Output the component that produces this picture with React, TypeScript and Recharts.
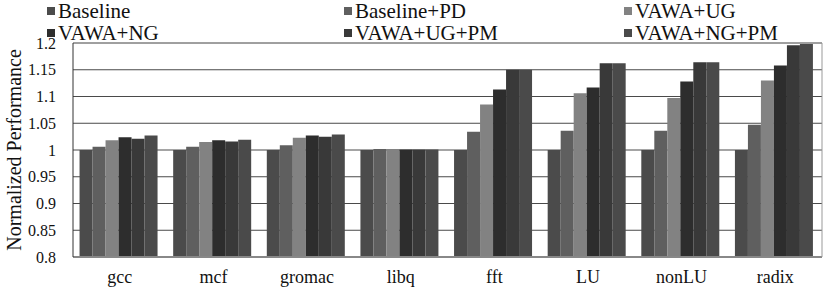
import React from 'react'
import { BarChart, Bar, XAxis, YAxis, CartesianGrid } from 'recharts'

const categories = ['gcc', 'mcf', 'gromac', 'libq', 'fft', 'LU', 'nonLU', 'radix']

const baseline = [1.0, 1.0, 1.0, 1.0, 1.0, 1.0, 1.0, 1.0]
const baselinePD = [1.006, 1.006, 1.009, 1.002, 1.034, 1.036, 1.036, 1.047]
const vawaUG = [1.018, 1.015, 1.023, 1.002, 1.085, 1.106, 1.097, 1.13]
const vawaNG = [1.024, 1.018, 1.027, 1.001, 1.113, 1.117, 1.128, 1.158]
const vawaUGPM = [1.021, 1.016, 1.025, 1.001, 1.15, 1.162, 1.164, 1.196]
const vawaNGPM = [1.027, 1.019, 1.029, 1.001, 1.15, 1.162, 1.164, 1.198]

const yTicks = [0.8, 0.85, 0.9, 0.95, 1, 1.05, 1.1, 1.15, 1.2]
// light minor lines every 0.01
const minorTicks = Array.from({ length: 41 }, (_, i) => Math.round((0.8 + i * 0.01) * 100) / 100)

const series = [
  { key: 'baseline', name: 'Baseline', values: baseline, color: '#4b4b4b' },
  { key: 'baselinePD', name: 'Baseline+PD', values: baselinePD, color: '#5f5f5f' },
  { key: 'vawaUG', name: 'VAWA+UG', values: vawaUG, color: '#828282' },
  { key: 'vawaNG', name: 'VAWA+NG', values: vawaNG, color: '#2d2d2d' },
  { key: 'vawaUGPM', name: 'VAWA+UG+PM', values: vawaUGPM, color: '#393939' },
  { key: 'vawaNGPM', name: 'VAWA+NG+PM', values: vawaNGPM, color: '#4a4a4a' },
]

const data = categories.map((name, i) => {
  const row: Record<string, string | number> = { name }
  series.forEach((s) => {
    row[s.key] = s.values[i]
  })
  return row
})

const font = '"Liberation Serif", "Times New Roman", serif'
const legendCols = [47, 344, 624]

export default function App() {
  return (
    <div style={{ position: 'absolute', left: 0, top: 0, width: 830, height: 289, background: '#fff', fontFamily: font }}>
      {/* legend, 3 columns x 2 rows */}
      {series.map((s, i) => (
        <div
          key={s.key}
          style={{
            position: 'absolute',
            left: legendCols[i % 3],
            top: i < 3 ? 0 : 22,
            display: 'flex',
            alignItems: 'center',
            fontSize: 21,
            lineHeight: '22px',
            color: '#111',
          }}
        >
          <span style={{ width: 8, height: 8, background: s.color, marginRight: 3 }} />
          {s.name}
        </div>
      ))}
      <BarChart
        width={830}
        height={289}
        data={data}
        margin={{ top: 43, right: 7, bottom: 2, left: 0 }}
        barCategoryGap="7%"
        barGap={0}
      >
        <CartesianGrid yAxisId="minor" vertical={false} stroke="#ececec" />
        <CartesianGrid vertical={false} stroke="#4a4a4a" />
        <XAxis
          dataKey="name"
          height={30}
          tickLine={false}
          axisLine={{ stroke: '#888', strokeWidth: 2 }}
          tick={{ fontSize: 18, fill: '#111', fontFamily: font }}
          tickMargin={7}
        />
        <YAxis
          yAxisId="minor"
          width={0}
          mirror
          domain={[0.8, 1.2]}
          ticks={minorTicks}
          interval={0}
          allowDataOverflow
          tick={false}
          tickSize={4}
          tickLine={{ stroke: '#999' }}
          axisLine={false}
        />
        <YAxis
          width={73}
          domain={[0.8, 1.2]}
          ticks={yTicks}
          interval={0}
          allowDataOverflow
          tickLine={false}
          tickSize={8}
          tickMargin={9}
          axisLine={{ stroke: '#333' }}
          tick={{ fontSize: 16, fill: '#111', fontFamily: font }}
          label={{
            content: () => (
              <text
                x={0}
                y={0}
                transform="translate(21, 150) rotate(-90)"
                textAnchor="middle"
                fontSize={20}
                fill="#111"
                fontFamily={font}
              >
                Normalized Performance
              </text>
            ),
          }}
        />
        <YAxis yAxisId="right" orientation="right" width={1} domain={[0.8, 1.2]} tick={false} tickLine={false} axisLine={{ stroke: '#999' }} />
        {series.map((s) => (
          <Bar key={s.key} dataKey={s.key} name={s.name} fill={s.color} isAnimationActive={false} />
        ))}
      </BarChart>
    </div>
  )
}
